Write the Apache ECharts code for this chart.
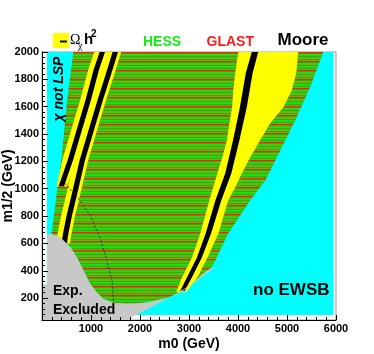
<!DOCTYPE html>
<html>
<head>
<meta charset="utf-8">
<script src="https://cdn.jsdelivr.net/npm/echarts@6/dist/echarts.min.js"></script>
<style>
  html, body { margin: 0; padding: 0; background: #fff; }
  #chart { width: 374px; height: 354px; }
</style>
</head>
<body>
<div id="chart"></div>
<script>
// m0 / m1/2 plane, all values in GeV: [m0, m12]
const scanBox = [[100, 77], [5950, 2000]];
const chiNotLspEdge = [[640, 2000], [515, 1650], [395, 1210], [310, 990], [200, 680]];
const noEwsbEdge = [[3470, 426], [3800, 672], [4250, 915], [4560, 1062], [4865, 1282], [5170, 1503], [5475, 1745], [5740, 2000]];
const excludedTop = [[170, 672], [375, 645], [580, 572], [715, 498], [850, 400], [985, 303], [1120, 241], [1255, 193],
  [1460, 165], [1735, 158], [2005, 162], [2210, 173], [2550, 200], [2825, 241], [3090, 314], [3290, 378], [3470, 426]];
const excludedBottom = [[3470, 411], [3165, 327], [2825, 253], [2475, 180], [2145, 119], [1870, 70], [1735, 40],
  [0, 40], [0, 300], [100, 300], [100, 660]];

// bands: [m12, m0 low, m0 high]
const focusYellow = [[2000, 4005, 5230], [1848, 3945, 5190], [1723, 3905, 5100], [1598, 3880, 4930], [1480, 3825, 4660],
  [1356, 3775, 4455], [1231, 3680, 4250], [1113, 3580, 4080], [1010, 3495, 3945], [915, 3415, 3800], [672, 3230, 3600],
  [496, 3060, 3375], [349, 2855, 3170], [246, 2740, 2945]];
const focusMoore = [[2010, 4290, 4420], [1848, 4160, 4300], [1598, 4040, 4180], [1356, 3900, 4030], [1113, 3740, 3865],
  [915, 3540, 3660], [672, 3340, 3450], [496, 3160, 3260], [349, 2955, 3055], [253, 2820, 2910]];
const stripAYellow = [[2000, 1066, 1351], [1870, 943, 1228], [1650, 780, 1065], [1429, 596, 881], [1209, 413, 698], [1018, 300, 514]];
const stripAMoore = [[2000, 1176, 1286], [1870, 1053, 1163], [1650, 890, 1000], [1429, 706, 816], [1209, 523, 633], [1018, 339, 449]];
const stripBYellow = [[2000, 1331, 1616], [1833, 1188, 1473], [1650, 1025, 1310], [1429, 841, 1126], [1209, 658, 943],
  [988, 515, 800], [805, 392, 677], [658, 311, 596], [599, 290, 575]];
const stripBMoore = [[2000, 1441, 1551], [1833, 1298, 1408], [1650, 1135, 1245], [1429, 951, 1061], [1209, 768, 878],
  [988, 625, 735], [805, 502, 612], [658, 421, 531], [599, 400, 510]];
const dottedLine = [[414, 1062], [740, 930], [985, 805], [1190, 636], [1325, 474], [1430, 327], [1460, 158]];

const yMajor = [200, 400, 600, 800, 1000, 1200, 1400, 1600, 1800, 2000];

const FONT = 'Liberation Sans, Arial, sans-serif';
const stripeRows = ['#14e014', '#14e014', '#8a8200', '#14e014', '#14e014', '#8a8200', '#14e014', '#ff1a00', '#8a8200'];

function stripePattern() {
  const c = document.createElement('canvas');
  c.width = 4;
  c.height = stripeRows.length;
  const ctx = c.getContext('2d');
  stripeRows.forEach(function (col, i) {
    ctx.fillStyle = col;
    ctx.fillRect(0, i, 4, 1);
  });
  return c;
}

// band rows -> closed outline
function bandOutline(rows) {
  const left = rows.map(function (r) { return [r[1], r[0]]; });
  const right = rows.slice().reverse().map(function (r) { return [r[2], r[0]]; });
  return left.concat(right);
}

function polySeries(name, points, fill, z) {
  return {
    type: 'custom',
    name: name,
    z: z,
    silent: true,
    clip: true,
    data: [[3000, 1000]],
    renderItem: function (params, api) {
      return {
        type: 'polygon',
        shape: { points: points.map(function (p) { return api.coord(p); }) },
        style: { fill: fill }
      };
    }
  };
}

const chart = echarts.init(document.getElementById('chart'), null, { renderer: 'canvas' });

const cyanBox = [[scanBox[0][0], scanBox[0][1]], [scanBox[1][0], scanBox[0][1]], [scanBox[1][0], scanBox[1][1]], [scanBox[0][0], scanBox[1][1]]];
const scanArea = chiNotLspEdge.concat(excludedTop, noEwsbEdge.slice(1));
const excluded = excludedTop.concat(excludedBottom);

const option = {
  animation: false,
  grid: { left: 42, right: 38, top: 52, bottom: 34, containLabel: false, outerBoundsMode: 'none',
    show: true, borderColor: '#999', borderWidth: 1 },
  xAxis: {
    type: 'value', min: 0, max: 6000, interval: 1000, z: 10,
    axisLine: { lineStyle: { color: '#000' } },
    axisTick: { inside: true, length: 5, lineStyle: { color: '#000' } },
    minorTick: { show: true, splitNumber: 5, length: 3, lineStyle: { color: '#000' } },
    splitLine: { show: false },
    axisLabel: { showMinLabel: false, color: '#000', fontWeight: 'bold', fontSize: 11, fontFamily: FONT, margin: 3,
      formatter: function (v) { return String(v); } },
    name: 'm0 (GeV)', nameLocation: 'middle', nameGap: 17, nameMoveOverlap: false,
    nameTextStyle: { color: '#000', fontWeight: 'bold', fontSize: 14, fontFamily: FONT }
  },
  yAxis: [{
    type: 'value', min: 40, max: 2000, interval: 40, z: 10,
    axisLine: { show: true, lineStyle: { color: '#000' } },
    axisTick: { inside: true, length: 3, lineStyle: { color: '#000' } },
    splitLine: { show: false },
    axisLabel: {
      color: '#000', fontWeight: 'bold', fontSize: 11, fontFamily: FONT, margin: 3,
      formatter: function (v) { return yMajor.indexOf(v) >= 0 ? String(v) : ''; }
    },
    name: 'm1/2 (GeV)', nameLocation: 'middle', nameGap: 27, nameMoveOverlap: false,
    nameTextStyle: { color: '#000', fontWeight: 'bold', fontSize: 14, fontFamily: FONT }
  }, {
    type: 'value', min: 40, max: 2000, position: 'left', z: 10,
    axisLine: { show: false },
    axisTick: { inside: true, length: 6, customValues: yMajor, lineStyle: { color: '#000' } },
    axisLabel: { show: false, customValues: yMajor },
    splitLine: { show: false }
  }],
  series: [
    polySeries('not LSP / no EWSB', cyanBox, '#00ffff', 1),
    polySeries('HESS / GLAST', scanArea, { image: stripePattern(), repeat: 'repeat' }, 2),
    polySeries('Omega h2 A', bandOutline(stripAYellow), '#ffff00', 3),
    polySeries('Omega h2 B', bandOutline(stripBYellow), '#ffff00', 3),
    polySeries('Omega h2 focus', bandOutline(focusYellow), '#ffff00', 3),
    polySeries('Moore A', bandOutline(stripAMoore), '#000000', 4),
    polySeries('Moore B', bandOutline(stripBMoore), '#000000', 4),
    polySeries('Moore focus', bandOutline(focusMoore), '#000000', 4),
    {
      type: 'line', name: 'contour', z: 5, silent: true, symbol: 'none',
      data: dottedLine,
      lineStyle: { color: '#333', width: 1, type: [2, 2] }
    },
    polySeries('Exp. Excluded', excluded, '#c8c8c8', 6)
  ],
  graphic: [
    { type: 'rect', shape: { x: 53, y: 33, width: 16, height: 15 }, style: { fill: '#ffff00' }, z: 20 },
    { type: 'rect', shape: { x: 60, y: 40.5, width: 7, height: 2 }, style: { fill: '#000' }, z: 21 },
    { type: 'text', x: 70, y: 47, style: { text: 'Ω', font: '14px Liberation Serif', fill: '#000', textVerticalAlign: 'bottom' }, z: 20 },
    { type: 'text', x: 78, y: 51, style: { text: 'χ', font: '10px Liberation Serif', fill: '#000', textVerticalAlign: 'bottom' }, z: 20 },
    { type: 'text', x: 84, y: 47.5, style: { text: 'h', font: 'bold 15px ' + FONT, fill: '#000', textVerticalAlign: 'bottom' }, z: 20 },
    { type: 'text', x: 91, y: 39, style: { text: '2', font: 'bold 10px ' + FONT, fill: '#000', textVerticalAlign: 'bottom' }, z: 20 },
    { type: 'text', x: 143, y: 42, style: { text: 'HESS', font: 'bold 14px ' + FONT, fill: '#11ee11', textVerticalAlign: 'middle' }, z: 20 },
    { type: 'text', x: 206.5, y: 42, style: { text: 'GLAST', font: 'bold 14px ' + FONT, fill: '#ff1a1a', textVerticalAlign: 'middle' }, z: 20 },
    { type: 'text', x: 277.5, y: 40.5, style: { text: 'Moore', font: 'bold 17px ' + FONT, fill: '#000', textVerticalAlign: 'middle' }, z: 20 },
    { type: 'text', x: 59, y: 89, rotation: Math.PI / 2,
      style: { text: 'χ not LSP', font: 'italic bold 14px ' + FONT, fill: '#000', textAlign: 'center', textVerticalAlign: 'middle' }, z: 20 },
    { type: 'text', x: 253, y: 290, style: { text: 'no EWSB', font: 'bold 17px ' + FONT, fill: '#000', textVerticalAlign: 'middle' }, z: 20 },
    { type: 'text', x: 53, y: 291, style: { text: 'Exp.', font: 'bold 14px ' + FONT, fill: '#000', textVerticalAlign: 'middle' }, z: 20 },
    { type: 'text', x: 53, y: 310, style: { text: 'Excluded', font: 'bold 14px ' + FONT, fill: '#000', textVerticalAlign: 'middle' }, z: 20 }
  ]
};

chart.setOption(option);
</script>
</body>
</html>
